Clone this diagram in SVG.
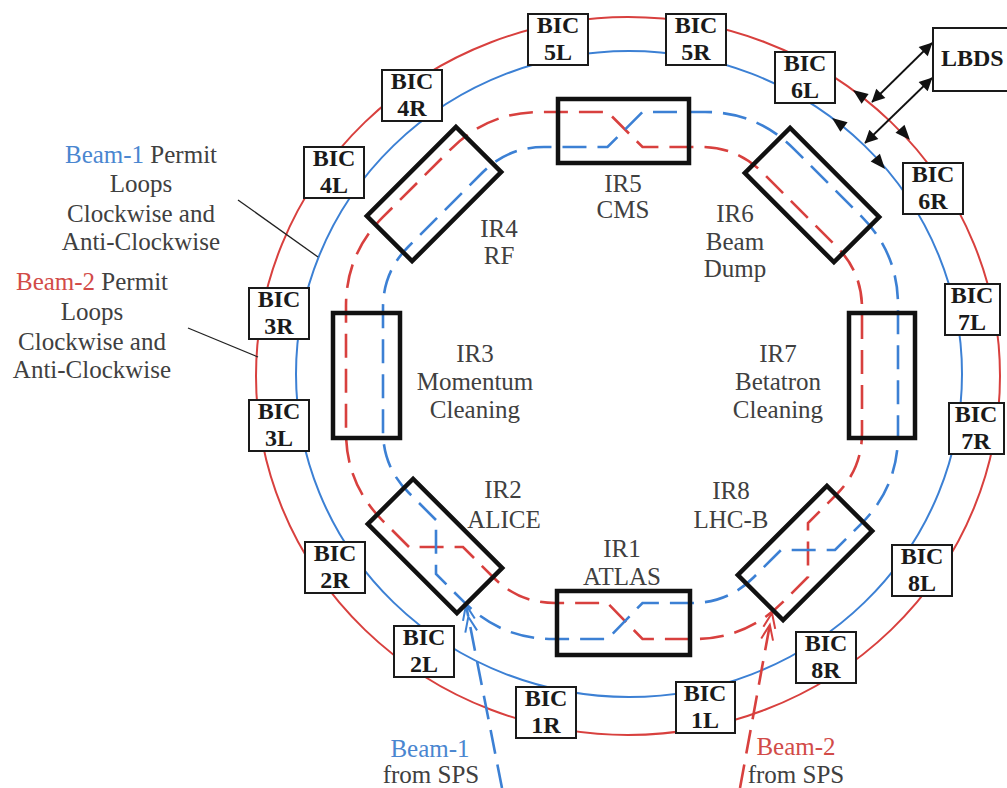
<svg xmlns="http://www.w3.org/2000/svg" width="1007" height="788" viewBox="0 0 1007 788">
<defs>
<style>
.bic rect{fill:#fff;stroke:#1a1a1a;stroke-width:2}
.bic text{font-family:"Liberation Serif",serif;font-weight:bold;font-size:24px;text-anchor:middle;fill:#1a1a1a}
.ir rect{fill:none;stroke:#111;stroke-width:4.5}
.lbl{font-family:"Liberation Serif",serif;font-size:25px;fill:#404040;text-anchor:middle}
.trk{fill:none;stroke-width:2.6;stroke-dasharray:24 11}
.red{stroke:#d8403e}
.blue{stroke:#3c80d4}
.ring{fill:none;stroke-width:2}
.chev{fill:none;stroke-width:2}
.lead{stroke:#222;stroke-width:1.3;fill:none}
</style>
<marker id="ah" viewBox="0 0 10 10" refX="9.5" refY="5" markerUnits="userSpaceOnUse" markerWidth="17" markerHeight="13" orient="auto-start-reverse">
<path d="M0,0 L10,5 L0,10 z" fill="#111"/>
</marker>
</defs>
<rect width="1007" height="788" fill="#fff"/>

<g id="connectors">
<ellipse class="ring red" cx="628" cy="376" rx="372" ry="359"/>
<ellipse class="ring blue" cx="629" cy="374" rx="333" ry="323"/>
<path class="trk red" d="M409,547 L382.8,520.8 Q346,484 346,432 L346,306 Q346,254 382.8,217.2 L451.2,148.8 Q488,112 540,112 L607.5,112 L642.5,147 L701,147 Q737,147 762.5,172.5 L836.5,246.5 Q862,272 862,308 L862,433 Q862,469 836.5,494.5 L808,523 L808,577 L782.8,602.2 Q746,639 694,639 L642.5,639 L607.5,603 L555,603 Q519,603 493.5,577.5 L463,547 Z"/>
<path class="trk blue" d="M436,520 L408.5,492.5 Q383,467 383,431 L383,308 Q383,272 408.5,246.5 L482.5,172.5 Q508,147 544,147 L607.5,147 L642.5,112 L705,112 Q757,112 793.8,148.8 L861.2,216.2 Q898,253 898,305 L898,435 Q898,487 861.2,523.8 L835,550 L781,550 L753.5,577.5 Q728,603 692,603 L642.5,603 L607.5,639 L553,639 Q501,639 464.2,602.2 L436,574 Z"/>
<line class="trk blue" x1="502" y1="788" x2="466" y2="605"/>
<line class="trk red" x1="740" y1="788" x2="772" y2="613"/>
<g transform="translate(466,605) rotate(-11.1)"><path class="chev blue" d="M-6,15 L0,0 L6,15 M-6,27 L0,12 L6,27"/></g>
<g transform="translate(772,613) rotate(10.4)"><path class="chev red" d="M-6,15 L0,0 L6,15 M-6,27 L0,12 L6,27"/></g>
<line x1="932" y1="43" x2="872" y2="102" stroke="#111" stroke-width="1.8" marker-start="url(#ah)" marker-end="url(#ah)"/>
<line x1="932" y1="78" x2="865" y2="143" stroke="#111" stroke-width="1.8" marker-start="url(#ah)" marker-end="url(#ah)"/>
<polygon points="853,90 868.6,94.1 861.6,103.7" fill="#111"/>
<polygon points="910,140 895.5,132.8 904.5,124.8" fill="#111"/>
<polygon points="832,118 847.6,122.2 840.4,131.8" fill="#111"/>
<polygon points="885,169 870.7,161.5 879.9,153.7" fill="#111"/>
<line class="lead" x1="238" y1="200" x2="318" y2="257"/>
<line class="lead" x1="188" y1="328" x2="258" y2="357"/>
</g>

<g id="ir5" class="ir"><rect x="558" y="99" width="131" height="64"/><text class="lbl" x="623" y="192">IR5</text><text class="lbl" x="623" y="218">CMS</text></g>
<g id="ir1" class="ir"><rect x="557" y="591" width="133" height="64"/><text class="lbl" x="622" y="557">IR1</text><text class="lbl" x="622" y="585">ATLAS</text></g>
<g id="ir3" class="ir"><rect x="333" y="313" width="67" height="125"/><text class="lbl" x="475" y="362">IR3</text><text class="lbl" x="475" y="390">Momentum</text><text class="lbl" x="475" y="418">Cleaning</text></g>
<g id="ir7" class="ir"><rect x="849" y="313" width="66" height="125"/><text class="lbl" x="778" y="362">IR7</text><text class="lbl" x="778" y="390">Betatron</text><text class="lbl" x="778" y="418">Cleaning</text></g>
<g id="ir4" class="ir"><rect x="-63" y="-32" width="126" height="64" transform="translate(434,194) rotate(-45)"/><text class="lbl" x="499" y="237">IR4</text><text class="lbl" x="499" y="264">RF</text></g>
<g id="ir6" class="ir"><rect x="-63" y="-32" width="126" height="64" transform="translate(812,195) rotate(45)"/><text class="lbl" x="735" y="222">IR6</text><text class="lbl" x="735" y="250">Beam</text><text class="lbl" x="735" y="277">Dump</text></g>
<g id="ir2" class="ir"><rect x="-63" y="-32" width="126" height="64" transform="translate(435,546) rotate(45)"/><text class="lbl" x="503" y="498">IR2</text><text class="lbl" x="504" y="528">ALICE</text></g>
<g id="ir8" class="ir"><rect x="-63" y="-32" width="126" height="64" transform="translate(805,553) rotate(-45)"/><text class="lbl" x="731" y="499">IR8</text><text class="lbl" x="731" y="528">LHC-B</text></g>

<g id="bic5L" class="bic"><rect x="528" y="14" width="60" height="51"/><text x="558" y="33">BIC</text><text x="558" y="60">5L</text></g>
<g id="bic5R" class="bic"><rect x="666" y="14" width="60" height="51"/><text x="696" y="33">BIC</text><text x="696" y="60">5R</text></g>
<g id="bic4R" class="bic"><rect x="382" y="70" width="60" height="51"/><text x="412" y="89">BIC</text><text x="412" y="116">4R</text></g>
<g id="bic4L" class="bic"><rect x="304" y="147" width="60" height="51"/><text x="334" y="166">BIC</text><text x="334" y="193">4L</text></g>
<g id="bic6L" class="bic"><rect x="775" y="52" width="60" height="51"/><text x="805" y="71">BIC</text><text x="805" y="98">6L</text></g>
<g id="bic6R" class="bic"><rect x="903" y="163" width="60" height="51"/><text x="933" y="182">BIC</text><text x="933" y="209">6R</text></g>
<g id="bic3R" class="bic"><rect x="249" y="288" width="60" height="51"/><text x="279" y="307">BIC</text><text x="279" y="334">3R</text></g>
<g id="bic3L" class="bic"><rect x="249" y="400" width="60" height="51"/><text x="279" y="419">BIC</text><text x="279" y="446">3L</text></g>
<g id="bic7L" class="bic"><rect x="945" y="284" width="55" height="51"/><text x="972" y="303">BIC</text><text x="972" y="330">7L</text></g>
<g id="bic7R" class="bic"><rect x="949" y="403" width="55" height="51"/><text x="976" y="422">BIC</text><text x="976" y="449">7R</text></g>
<g id="bic2R" class="bic"><rect x="305" y="542" width="60" height="51"/><text x="335" y="561">BIC</text><text x="335" y="588">2R</text></g>
<g id="bic2L" class="bic"><rect x="394" y="626" width="60" height="51"/><text x="424" y="645">BIC</text><text x="424" y="672">2L</text></g>
<g id="bic1R" class="bic"><rect x="516" y="687" width="60" height="51"/><text x="546" y="706">BIC</text><text x="546" y="733">1R</text></g>
<g id="bic1L" class="bic"><rect x="676" y="682" width="59" height="51"/><text x="705" y="701">BIC</text><text x="705" y="728">1L</text></g>
<g id="bic8R" class="bic"><rect x="796" y="632" width="60" height="51"/><text x="826" y="651">BIC</text><text x="826" y="678">8R</text></g>
<g id="bic8L" class="bic"><rect x="892" y="545" width="60" height="51"/><text x="922" y="564">BIC</text><text x="922" y="591">8L</text></g>
<g id="lbds" class="bic"><rect x="933" y="28" width="80" height="63"/><text x="941" y="66" style="text-anchor:start">LBDS</text></g>

<g id="beam1-note">
<text class="lbl" x="141" y="163"><tspan fill="#4a86d0">Beam-1</tspan> Permit</text>
<text class="lbl" x="141" y="192">Loops</text>
<text class="lbl" x="141" y="222">Clockwise and</text>
<text class="lbl" x="141" y="250">Anti-Clockwise</text>
</g>
<g id="beam2-note">
<text class="lbl" x="92" y="290"><tspan fill="#d24b48">Beam-2</tspan> Permit</text>
<text class="lbl" x="92" y="320">Loops</text>
<text class="lbl" x="92" y="350">Clockwise and</text>
<text class="lbl" x="92" y="378">Anti-Clockwise</text>
</g>
<g id="beam1-sps">
<text class="lbl" x="430" y="757" style="fill:#4a86d0">Beam-1</text>
<text class="lbl" x="431" y="783">from SPS</text>
</g>
<g id="beam2-sps">
<text class="lbl" x="796" y="755" style="fill:#d24b48">Beam-2</text>
<text class="lbl" x="796" y="783">from SPS</text>
</g>
</svg>
